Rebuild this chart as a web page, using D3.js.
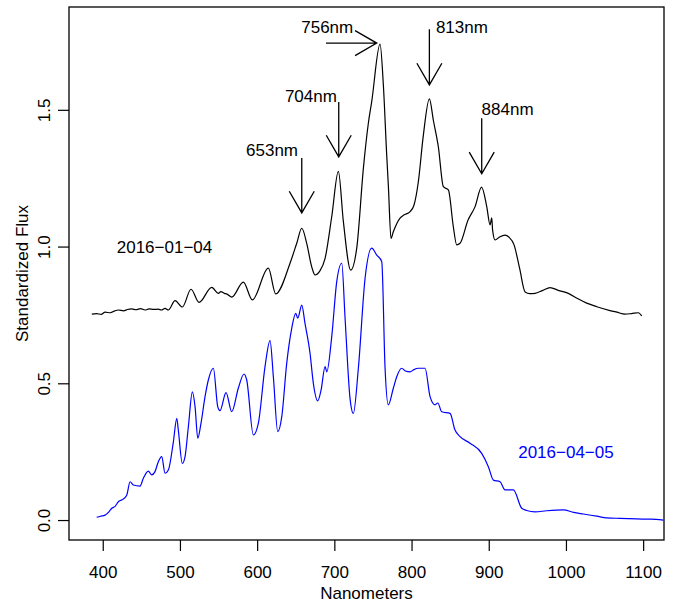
<!DOCTYPE html>
<html>
<head>
<meta charset="utf-8">
<script src="https://cdn.jsdelivr.net/npm/d3@7"></script>
<style>
  body { margin: 0; background: #fff; }
  svg { display: block; font-family: "Liberation Sans", Arial, sans-serif; }
</style>
</head>
<body>
<div id="chart"></div>
<script>
// spectrum 2016-01-04 (black)
var janNm = [385.8, 392, 398, 403, 410, 415, 420.2, 427, 432, 437.6, 443, 449, 454.8, 460, 466, 472, 476, 480.7, 485,
  493.7, 503.1, 514.4, 524.7, 541.2, 549.7, 553, 557.5, 561, 567.1, 582.1, 593.8, 614.5, 624.1, 642.6, 651.3, 657.8,
  664.2, 670.7, 675, 681.5, 688, 696.6, 705.2, 711.7, 721.2, 729, 737.6, 744, 748.4, 759.2, 763.5, 767.9, 770, 773.4,
  776.4, 785.1, 790, 798.1, 803, 808.8, 815, 823.1, 828.3, 834.7, 841.2, 847.7, 854.1, 858.5, 862.8, 873.2, 882.3,
  890.7, 897.4, 901.7, 903.9, 905, 908.2, 914, 921.1, 926, 932.8, 940, 947.1, 953, 960, 970, 979.5, 990, 1003.1,
  1015, 1026.9, 1040, 1057.1, 1066, 1076.5, 1085, 1093.8, 1098.2];
var janFlux = [0.753, 0.755, 0.752, 0.760, 0.758, 0.764, 0.768, 0.765, 0.770, 0.772, 0.769, 0.773, 0.768, 0.772, 0.770,
  0.771, 0.768, 0.774, 0.768, 0.802, 0.779, 0.844, 0.796, 0.851, 0.829, 0.835, 0.829, 0.826, 0.815, 0.870, 0.805,
  0.921, 0.827, 0.939, 1.012, 1.067, 1.012, 0.926, 0.896, 0.912, 0.957, 1.109, 1.275, 1.091, 0.914, 0.994, 1.286,
  1.450, 1.530, 1.740, 1.590, 1.330, 1.220, 1.030, 1.054, 1.104, 1.115, 1.128, 1.150, 1.237, 1.400, 1.540, 1.461,
  1.365, 1.219, 1.207, 1.073, 1.006, 1.012, 1.097, 1.146, 1.217, 1.146, 1.079, 1.105, 1.060, 1.024, 1.035, 1.042,
  1.035, 1.006, 0.920, 0.834, 0.828, 0.829, 0.840, 0.850, 0.840, 0.829, 0.810, 0.793, 0.780, 0.766, 0.760, 0.753,
  0.755, 0.758, 0.746];

// spectrum 2016-04-05 (blue)
var aprNm = [392.2, 397, 403, 408, 411.7, 416, 420.2, 425, 431.1, 435.4, 439.6, 448.3, 452.6, 459.1, 463.5, 467.7, 472,
  476.4, 480.7, 485, 491.5, 495.9, 497.9, 503.1, 506.6, 510.9, 516.1, 519.6, 523.1, 527.3, 532.5, 536.8, 543.3, 549,
  551.9, 559.7, 567.1, 575.6, 583, 586.5, 595.1, 601.6, 610.2, 616.7, 621, 626.7, 631.9, 638.3, 644.8, 650, 652.6,
  657.8, 662, 668.5, 672.8, 678.5, 682.8, 688, 690.2, 696.6, 703.1, 709.6, 713.9, 720.3, 724.6, 731.1, 739.8, 748.4,
  754.9, 761.4, 765.7, 769.9, 776.4, 780.8, 787.3, 792, 798.1, 803, 808.8, 817.5, 824, 830.4, 834, 839.1, 849.9,
  856.3, 862.8, 875.8, 890.9, 899.5, 906, 914.6, 921.1, 931.9, 942.7, 949.2, 960, 975.1, 996.6, 1010, 1022.5, 1040,
  1052.8, 1070, 1091.7, 1110, 1126.2];
var aprFlux = [0.010, 0.014, 0.018, 0.030, 0.043, 0.050, 0.067, 0.074, 0.091, 0.140, 0.128, 0.124, 0.153, 0.179, 0.165,
  0.177, 0.213, 0.232, 0.171, 0.183, 0.286, 0.372, 0.329, 0.207, 0.232, 0.341, 0.469, 0.414, 0.299, 0.354, 0.451,
  0.512, 0.555, 0.414, 0.400, 0.466, 0.396, 0.482, 0.534, 0.512, 0.311, 0.354, 0.561, 0.656, 0.524, 0.323, 0.378,
  0.573, 0.701, 0.756, 0.738, 0.786, 0.719, 0.610, 0.500, 0.436, 0.475, 0.561, 0.542, 0.670, 0.872, 0.939, 0.738,
  0.445, 0.390, 0.555, 0.884, 0.994, 0.969, 0.945, 0.555, 0.421, 0.482, 0.524, 0.555, 0.545, 0.542, 0.550, 0.555,
  0.555, 0.451, 0.421, 0.428, 0.396, 0.390, 0.329, 0.305, 0.281, 0.244, 0.195, 0.146, 0.140, 0.110, 0.110, 0.043,
  0.035, 0.030, 0.034, 0.037, 0.028, 0.022, 0.014, 0.008, 0.006, 0.004, 0.003, 0.000];

var xTicks = [400, 500, 600, 700, 800, 900, 1000, 1100];
var yTicks = [0, 0.5, 1, 1.5];

// peak annotations
var annLabels = ["653nm", "704nm", "756nm", "813nm", "884nm"];
var annTextX = [619.3, 669.6, 690.8, 865.2, 924.4];
var annTextY = [1.353, 1.551, 1.803, 1.801, 1.503];
var arrowFromX = [657.8, 705.7, 689.2, 823.1, 890.9];
var arrowFromY = [1.324, 1.529, 1.744, 1.795, 1.469];
var arrowToX = [657.8, 705.7, 754.9, 823.1, 890.9];
var arrowToY = [1.123, 1.328, 1.744, 1.591, 1.266];

var seriesNames = ["2016-01-04", "2016-04-05"];
var seriesLabelX = [480, 1000];
var seriesLabelY = [1.0, 0.25];

var W = 678, H = 605;
var margin = {left: 69, top: 7, right: 14, bottom: 65};
var fontSize = 17;

var x = d3.scaleLinear().domain([356.3, 1127]).range([margin.left, W - margin.right]);
var y = d3.scaleLinear().domain([-0.073, 1.876]).range([H - margin.bottom, margin.top]);

var svg = d3.select("#chart").append("svg")
    .attr("width", W)
    .attr("height", H);

var line = d3.line()
    .x(function(d) { return x(d[0]); })
    .y(function(d) { return y(d[1]); })
    .curve(d3.curveMonotoneX);

svg.append("clipPath").attr("id", "plotclip")
    .append("rect")
    .attr("x", margin.left).attr("y", margin.top)
    .attr("width", W - margin.left - margin.right)
    .attr("height", H - margin.top - margin.bottom);

var jan = janNm.map(function(v, i) { return [v, janFlux[i]]; });
var apr = aprNm.map(function(v, i) { return [v, aprFlux[i]]; });

svg.append("path").attr("d", line(jan))
    .attr("fill", "none").attr("stroke", "#000").attr("stroke-width", 1.2)
    .attr("clip-path", "url(#plotclip)");
svg.append("path").attr("d", line(apr))
    .attr("fill", "none").attr("stroke", "#0000ff").attr("stroke-width", 1.2)
    .attr("clip-path", "url(#plotclip)");

// box
svg.append("rect")
    .attr("x", margin.left).attr("y", margin.top)
    .attr("width", W - margin.left - margin.right)
    .attr("height", H - margin.top - margin.bottom)
    .attr("fill", "none").attr("stroke", "#000").attr("stroke-width", 1.3);

// x axis
var gx = svg.append("g")
    .attr("transform", "translate(0," + (H - margin.bottom) + ")")
    .call(d3.axisBottom(x).tickValues(xTicks).tickFormat(d3.format("d"))
        .tickSize(11).tickPadding(15).tickSizeOuter(0));
gx.select(".domain").remove();
gx.selectAll("line").attr("stroke-width", 1.2);
gx.selectAll("text").attr("font-size", fontSize).attr("font-family", null).attr("fill", "#000");

// y axis with rotated labels, R style
var gy = svg.append("g")
    .attr("transform", "translate(" + margin.left + ",0)")
    .call(d3.axisLeft(y).tickValues(yTicks).tickSize(11).tickFormat(d3.format(".1f")).tickSizeOuter(0));
gy.select(".domain").remove();
gy.selectAll("line").attr("stroke-width", 1.2);
gy.selectAll("text")
    .attr("font-size", fontSize).attr("font-family", null).attr("fill", "#000")
    .attr("x", null).attr("dy", null)
    .attr("text-anchor", "middle")
    .attr("transform", "translate(-19,0) rotate(-90)");

svg.append("text")
    .attr("x", (margin.left + W - margin.right) / 2)
    .attr("y", 599)
    .attr("text-anchor", "middle")
    .attr("font-size", fontSize)
    .text("Nanometers");

svg.append("text")
    .attr("transform", "translate(28," + ((margin.top + H - margin.bottom) / 2) + ") rotate(-90)")
    .attr("text-anchor", "middle")
    .attr("font-size", fontSize)
    .text("Standardized Flux");

// series labels
var seriesColors = ["#000", "#0000ff"];
seriesNames.forEach(function(name, i) {
    svg.append("text")
        .attr("x", x(seriesLabelX[i]))
        .attr("y", y(seriesLabelY[i]))
        .attr("dy", "0.35em")
        .attr("text-anchor", "middle")
        .attr("font-size", fontSize)
        .attr("fill", seriesColors[i])
        .text(name.replace(/-/g, "\u2212"));
});

// peak arrows
var headLen = 25, headAng = Math.PI / 6;
annLabels.forEach(function(lab, i) {
    var x0 = x(arrowFromX[i]), y0 = y(arrowFromY[i]);
    var x1 = x(arrowToX[i]), y1 = y(arrowToY[i]);
    var a = Math.atan2(y1 - y0, x1 - x0);
    var p = "M" + x0 + "," + y0 + "L" + x1 + "," + y1 +
        "M" + (x1 - headLen * Math.cos(a - headAng)) + "," + (y1 - headLen * Math.sin(a - headAng)) +
        "L" + x1 + "," + y1 +
        "L" + (x1 - headLen * Math.cos(a + headAng)) + "," + (y1 - headLen * Math.sin(a + headAng));
    svg.append("path").attr("d", p)
        .attr("fill", "none").attr("stroke", "#000").attr("stroke-width", 1.3);
    svg.append("text")
        .attr("x", x(annTextX[i]))
        .attr("y", y(annTextY[i]))
        .attr("dy", "0.35em")
        .attr("text-anchor", "middle")
        .attr("font-size", fontSize)
        .text(lab);
});
</script>
</body>
</html>
